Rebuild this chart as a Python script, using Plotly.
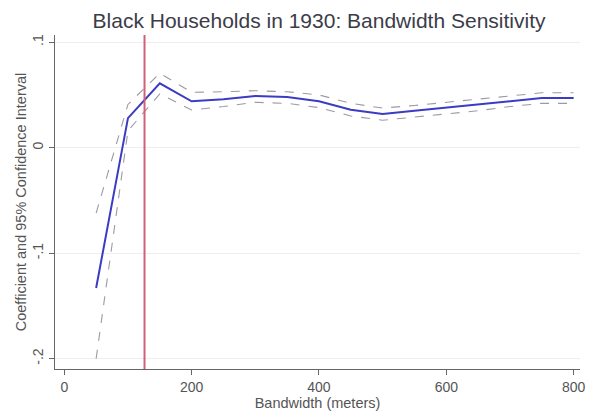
import plotly.graph_objects as go

bandwidth = [50, 100, 150, 200, 250, 300, 350, 400, 450, 500, 550, 600, 650, 700, 750, 800]
coef = [-0.133, 0.028, 0.061, 0.044, 0.046, 0.049, 0.048, 0.044, 0.036, 0.032, 0.035, 0.038, 0.041, 0.044, 0.047, 0.047]
ci_upper = [-0.062, 0.041, 0.0705, 0.0525, 0.053, 0.054, 0.053, 0.050, 0.042, 0.0375, 0.040, 0.043, 0.046, 0.049, 0.052, 0.052]
ci_lower = [-0.200, 0.016, 0.051, 0.0357, 0.039, 0.043, 0.042, 0.038, 0.030, 0.026, 0.029, 0.032, 0.035, 0.039, 0.042, 0.042]
cutoff = 126
x_ticks = [0, 200, 400, 600, 800]
y_ticks = [-0.2, -0.1, 0, 0.1]
y_tick_labels = ["-.2", "-.1", "0", ".1"]

fig = go.Figure()
fig.add_trace(go.Scatter(x=bandwidth, y=ci_upper, mode="lines",
                         line=dict(color="#9a9aa6", width=1.1, dash="dash"), showlegend=False))
fig.add_trace(go.Scatter(x=bandwidth, y=ci_lower, mode="lines",
                         line=dict(color="#9a9aa6", width=1.1, dash="dash"), showlegend=False))
fig.add_trace(go.Scatter(x=bandwidth, y=coef, mode="lines",
                         line=dict(color="#3b3bc4", width=2), showlegend=False))
fig.add_vline(x=cutoff, line=dict(color="#d0607a", width=2))

fig.update_layout(
    width=588, height=406,
    margin=dict(l=47, r=16, t=27, b=45),
    paper_bgcolor="white", plot_bgcolor="white",
    font=dict(family="Liberation Sans, Arial, sans-serif", color="#555555", size=14),
    title=dict(text="Black Households in 1930: Bandwidth Sensitivity",
               x=0.529, xanchor="center", y=0.970, yanchor="middle",
               font=dict(size=21, color="#3c3c48")),
    xaxis=dict(range=[-14.6, 810], tickvals=x_ticks, ticks="outside", ticklen=5,
               tickcolor="#666", showline=True, linecolor="#666", linewidth=1,
               showgrid=False, zeroline=False, automargin=False,
               title=dict(text="Bandwidth (meters)", font=dict(size=14.5), standoff=0),
               tickfont=dict(size=14)),
    yaxis=dict(range=[-0.2098, 0.1068], tickvals=y_ticks, ticktext=y_tick_labels,
               ticks="outside", ticklen=5, tickcolor="#666", tickangle=-90,
               showline=True, linecolor="#666", linewidth=1,
               showgrid=True, gridcolor="#eeeeee", gridwidth=1, zeroline=False,
               automargin=False,
               title=dict(text="Coefficient and 95% Confidence Interval", font=dict(size=14.5), standoff=0),
               tickfont=dict(size=14)),
)

fig.write_html("out.html")
